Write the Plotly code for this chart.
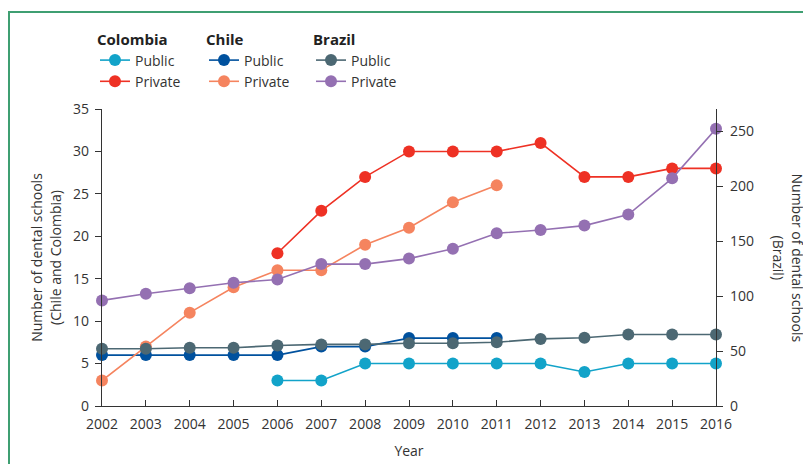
import plotly.graph_objects as go

years = list(range(2002, 2017))

# Colombia and Chile: left axis; Brazil: right axis
colombia_public = [None, None, None, None, 3, 3, 5, 5, 5, 5, 5, 4, 5, 5, 5]
colombia_private = [None, None, None, None, 18, 23, 27, 30, 30, 30, 31, 27, 27, 28, 28]
chile_public = [6, 6, 6, 6, 6, 7, 7, 8, 8, 8, None, None, None, None, None]
chile_private = [3, 7, 11, 14, 16, 16, 19, 21, 24, 26, None, None, None, None, None]
brazil_public = [52, 52, 53, 53, 55, 56, 56, 57, 57, 58, 61, 62, 65, 65, 65]
brazil_private = [96, 102, 107, 112, 115, 129, 129, 134, 143, 157, 160, 164, 174, 207, 252]

left_ticks = [0, 5, 10, 15, 20, 25, 30, 35]
right_ticks = [0, 50, 100, 150, 200, 250]

FONT = "Open Sans, Noto Sans, sans-serif"
TXT = "#333333"

series = [
    ("Public", colombia_public, "#12a3c9", "y", "legend"),
    ("Private", colombia_private, "#ee3124", "y", "legend"),
    ("Public", chile_public, "#00519e", "y", "legend2"),
    ("Private", chile_private, "#f5845f", "y", "legend2"),
    ("Public", brazil_public, "#4c6873", "y2", "legend3"),
    ("Private", brazil_private, "#9470b2", "y2", "legend3"),
]

fig = go.Figure()
for name, vals, color, yax, leg in series:
    fig.add_trace(go.Scatter(
        x=years, y=vals, name=name, mode="lines+markers",
        yaxis=yax, legend=leg, cliponaxis=False, connectgaps=False,
        line=dict(color=color, width=1.6),
        marker=dict(color=color, size=12),
    ))

# page has an 8px body margin, so the figure is sized to the visible area
W, H = 803, 456
L, R, T, B = 94, 95, 101, 58
pw, ph = W - L - R, H - T - B


def px_x(x):
    return (x - L) / pw


def px_y(y):
    return 1 + (T - y) / ph


legend_common = dict(
    orientation="v", xanchor="left", yanchor="top",
    font=dict(family=FONT, size=14, color=TXT),
    itemwidth=30, bgcolor="rgba(0,0,0,0)", borderwidth=0,
    tracegroupgap=0,
)
title_font = dict(family=FONT, size=15, color="#222")

fig.update_layout(
    width=W, height=H,
    margin=dict(l=L, r=R, t=T, b=B, autoexpand=False),
    paper_bgcolor="white", plot_bgcolor="white",
    font=dict(family=FONT, size=14, color=TXT),
    showlegend=True,
    legend=dict(x=px_x(87), y=px_y(17),
                title=dict(text="<b>Colombia</b>", side="top", font=title_font),
                **legend_common),
    legend2=dict(x=px_x(196), y=px_y(17),
                 title=dict(text="<b>Chile</b>", side="top", font=title_font),
                 **legend_common),
    legend3=dict(x=px_x(303), y=px_y(17),
                 title=dict(text="<b>Brazil</b>", side="top", font=title_font),
                 **legend_common),
    xaxis=dict(
        range=[2002, 2016], tickmode="array", tickvals=years,
        ticktext=[str(y) for y in years], automargin=False,
        ticks="inside", ticklen=6, tickcolor=TXT, tickwidth=1.2,
        showline=True, linecolor=TXT, linewidth=1.2,
        showgrid=False, zeroline=False, ticklabelstandoff=5,
        title=dict(text="Year", font=dict(family=FONT, size=14, color=TXT), standoff=14),
        tickfont=dict(family=FONT, size=14, color=TXT),
    ),
    yaxis=dict(
        range=[0, 35], tickmode="array", tickvals=left_ticks, automargin=False,
        ticks="outside", ticklen=6, tickcolor=TXT, tickwidth=1.2,
        showline=True, linecolor=TXT, linewidth=1.2,
        showgrid=False, zeroline=False, ticklabelstandoff=3,
        title=dict(text="Number of dental schools<br>(Chile and Colombia)",
                   font=dict(family=FONT, size=14, color=TXT), standoff=8),
        tickfont=dict(family=FONT, size=14, color=TXT),
    ),
    yaxis2=dict(
        range=[0, 270], tickmode="array", tickvals=right_ticks, automargin=False,
        overlaying="y", side="right", anchor="x",
        ticks="outside", ticklen=6, tickcolor=TXT, tickwidth=1.2,
        showline=True, linecolor=TXT, linewidth=1.2,
        showgrid=False, zeroline=False, ticklabelstandoff=4,
        tickfont=dict(family=FONT, size=14, color=TXT),
    ),
    annotations=[dict(
        text="Number of dental schools<br>(Brazil)", textangle=90,
        xref="paper", yref="paper", x=px_x(780), y=0.5,
        xanchor="center", yanchor="middle", showarrow=False,
        font=dict(family=FONT, size=14, color=TXT),
    )],
    shapes=[
        dict(type="line", xref="paper", yref="paper",
             x0=px_x(1), x1=px_x(820), y0=px_y(4), y1=px_y(4),
             line=dict(color="#3f9f72", width=2)),
        dict(type="line", xref="paper", yref="paper",
             x0=px_x(1), x1=px_x(1), y0=px_y(3), y1=px_y(470),
             line=dict(color="#3f9f72", width=2)),
    ],
)

fig.write_html("out.html")
